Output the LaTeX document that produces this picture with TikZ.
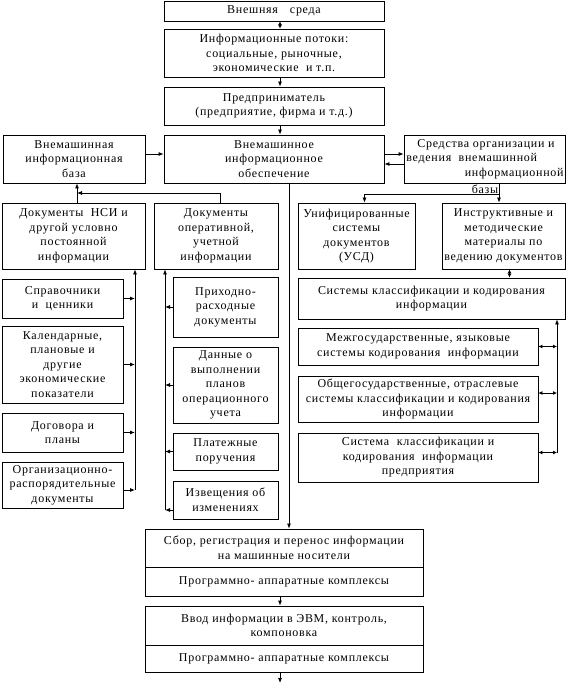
\documentclass[tikz,border=0pt]{standalone}
\usepackage{fontspec}
\setmainfont{Liberation Serif}
\newfontfamily\docfont[LetterSpace=6]{Liberation Serif}
\newcommand{\boxfont}{\docfont\fontsize{12pt}{14.5pt}\selectfont}
\usetikzlibrary{arrows.meta, positioning}

\begin{document}
\begin{tikzpicture}[
		x=1pt, y=-1pt,
		line width=0.8pt,
		box/.style={
			draw,
			align=center,
			inner sep=1pt,
			font=\boxfont
		},
		txt/.style={
			inner sep=0pt,
			font=\boxfont
		},
		arrow/.style={-{Latex[length=5pt,width=4pt]}},
		dblarrow/.style={{Latex[length=4pt,width=4pt]}-{Latex[length=4pt,width=4pt]}}
		]
		
		\useasboundingbox (0,0) rectangle (568,684);
		
		% top chain
		\node[box, minimum width=220pt, minimum height=20pt] (sreda) at (274,11) {Внешняя\quad среда};
		\node[box, minimum width=220pt, minimum height=48pt] (potoki) at (274,53) {Информационные потоки:\\социальные, рыночные,\\экономические\ \ и т.п.};
		\node[box, minimum width=220pt, minimum height=38pt] (predpr) at (274,106) {Предприниматель\\(предприятие, фирма и т.д.)};
		
		% main row
		\node[box, minimum width=220pt, minimum height=48pt] (vnemObesp) at (274,159) {Внемашинное\\информационное\\обеспечение};
		\node[box, minimum width=142pt, minimum height=48pt] (vnemBaza) at (74,159) {Внемашинная\\информационная\\база};
		\node[draw, minimum width=161pt, minimum height=48pt] (sredstva) at (484.5,159) {};
		\node[txt] (sredstvaA) at (486,145) {Средства организации и};
		\node[txt, anchor=west] (sredstvaB) at (406,159) {ведения\ \ внемашинной};
		\node[txt, anchor=east] (sredstvaC) at (564,174) {информационной};
		\node[txt] (sredstvaD) at (485,189) {базы};
		
		% documents
		\node[box, minimum width=143pt, minimum height=66pt] (nsi) at (73.5,236) {Документы\ \ НСИ и\\другой условно\\постоянной\\информации};
		\node[box, minimum width=124pt, minimum height=66pt] (operativ) at (216,236) {Документы\\оперативной,\\учетной\\информации};
		\node[box, minimum width=117pt, minimum height=66pt] (usd) at (356.5,236) {Унифицированные\\системы\\документов\\(УСД)};
		\node[box, minimum width=123pt, minimum height=66pt] (instr) at (503.5,236) {Инструктивные и\\методические\\материалы по\\ведению документов};
		
		% NSI column
		\node[box, minimum width=121pt, minimum height=39pt] (sprav) at (62.5,298.5) {Справочники\\и\ \ ценники};
		\node[box, minimum width=121pt, minimum height=77pt] (kalend) at (62.5,364.5) {Календарные,\\плановые и\\другие\\экономические\\показатели};
		\node[box, minimum width=121pt, minimum height=39pt] (dogovor) at (62.5,432.5) {Договора и\\планы};
		\node[box, minimum width=121pt, minimum height=46pt] (orgrasp) at (62.5,485) {Организационно-\\распорядительные\\документы};
		
		% operative column
		\node[box, minimum width=105pt, minimum height=60pt] (prihod) at (225.5,307) {Приходно-\\расходные\\документы};
		\node[box, minimum width=105pt, minimum height=76pt] (dannye) at (225.5,385) {Данные о\\выполнении\\планов\\операционного\\учета};
		\node[box, minimum width=105pt, minimum height=37pt] (platezh) at (225.5,451.5) {Платежные\\поручения};
		\node[box, minimum width=105pt, minimum height=38pt] (izvesh) at (225.5,500) {Извещения об\\изменениях};
		
		% classification column
		\node[box, minimum width=267pt, minimum height=41pt] (sistemy) at (431.5,298.5) {Системы классификации и кодирования\\информации};
		\node[box, minimum width=240pt, minimum height=37pt] (mezhgos) at (418,346.5) {Межгосударственные, языковые\\системы кодирования\ \ информации};
		\node[box, minimum width=240pt, minimum height=46pt] (obshegos) at (418,399) {Общегосударственные, отраслевые\\системы классификации и кодирования\\информации};
		\node[box, minimum width=240pt, minimum height=49pt] (predpriyat) at (418,457.5) {Система\ \ классификации и\\кодирования\ \ информации\\предприятия};
		
		% machine stages
		\node[box, minimum width=278pt, minimum height=38pt] (sbor) at (284,548) {Сбор, регистрация и перенос информации\\на машинные носители};
		\node[box, minimum width=278pt, minimum height=29pt, below=0pt of sbor] (sborKompl) {Программно- аппаратные комплексы};
		\node[box, minimum width=278pt, minimum height=39pt] (vvod) at (284,625.5) {Ввод информации в ЭВМ, контроль,\\компоновка};
		\node[box, minimum width=278pt, minimum height=27pt, below=0pt of vvod] (vvodKompl) {Программно- аппаратные комплексы};
		
		\coordinate (jointL) at (77,193);
		\coordinate (splitR) at (499,194);
		\coordinate (busL) at (135,0);
		\coordinate (busO) at (165,0);
		\coordinate (busR) at (557,0);
		\coordinate (outEnd) at (280,683);
		
		\draw[dblarrow] ([xshift=6pt]sreda.south) -- ([xshift=6pt]potoki.north);
		\draw[arrow] ([xshift=6pt]potoki.south) -- ([xshift=6pt]predpr.north);
		\draw[arrow] ([xshift=6pt]predpr.south) -- ([xshift=6pt]vnemObesp.north);
		\draw[arrow] ([yshift=5pt]vnemBaza.east) -- ([yshift=5pt]vnemObesp.west);
		\draw[arrow] ([yshift=5pt]vnemObesp.east) -- ([yshift=5pt]sredstva.west);
		\draw[arrow] ([yshift=-5pt]sredstva.west) -- ([yshift=-5pt]vnemObesp.east);
		
		\draw[arrow] (jointL |- nsi.north) -- (jointL |- vnemBaza.south);
		\draw[arrow] ([xshift=4pt]operativ.north) |- (jointL);
		\draw[arrow] (splitR |- sredstva.south) -- (splitR |- instr.north);
		\draw[arrow] (splitR) -| ([xshift=8pt]usd.north);
		\draw[dblarrow] ([xshift=6pt]instr.south) -- ([xshift=6pt]instr.south |- sistemy.north);
		\draw[arrow] ([xshift=15pt]vnemObesp.south) -- ([xshift=15pt]vnemObesp.south |- sbor.north);
		
		\draw[arrow] ([yshift=-5pt]busL |- orgrasp.east) -- (busL |- nsi.south);
		\foreach \n in {sprav, kalend, dogovor}
			\draw[arrow] (\n.east) -- (\n.east -| busL);
		\draw[arrow] ([yshift=-5pt]orgrasp.east) -- ([yshift=-5pt]orgrasp.east -| busL);
		
		\draw[arrow] ([yshift=-10pt]busO |- izvesh.west) -- (busO |- operativ.south);
		\foreach \n in {prihod, dannye, platezh}
			\draw[arrow] (\n.west) -- (\n.west -| busO);
		\draw[arrow] ([yshift=-10pt]izvesh.west) -- ([yshift=-10pt]izvesh.west -| busO);
		
		\draw[arrow] ([yshift=5pt]busR |- predpriyat.east) -- (busR |- sistemy.south);
		\draw[dblarrow] (mezhgos.east) -- (mezhgos.east -| busR);
		\draw[dblarrow] ([yshift=6pt]obshegos.east) -- ([yshift=6pt]obshegos.east -| busR);
		\draw[dblarrow] ([yshift=5pt]predpriyat.east) -- ([yshift=5pt]predpriyat.east -| busR);
		
		\draw[arrow] ([xshift=-4pt]sborKompl.south) -- ([xshift=-4pt]vvod.north);
		\draw[arrow] ([xshift=-4pt]vvodKompl.south) -- (outEnd);
		
	\end{tikzpicture}
\end{document}
